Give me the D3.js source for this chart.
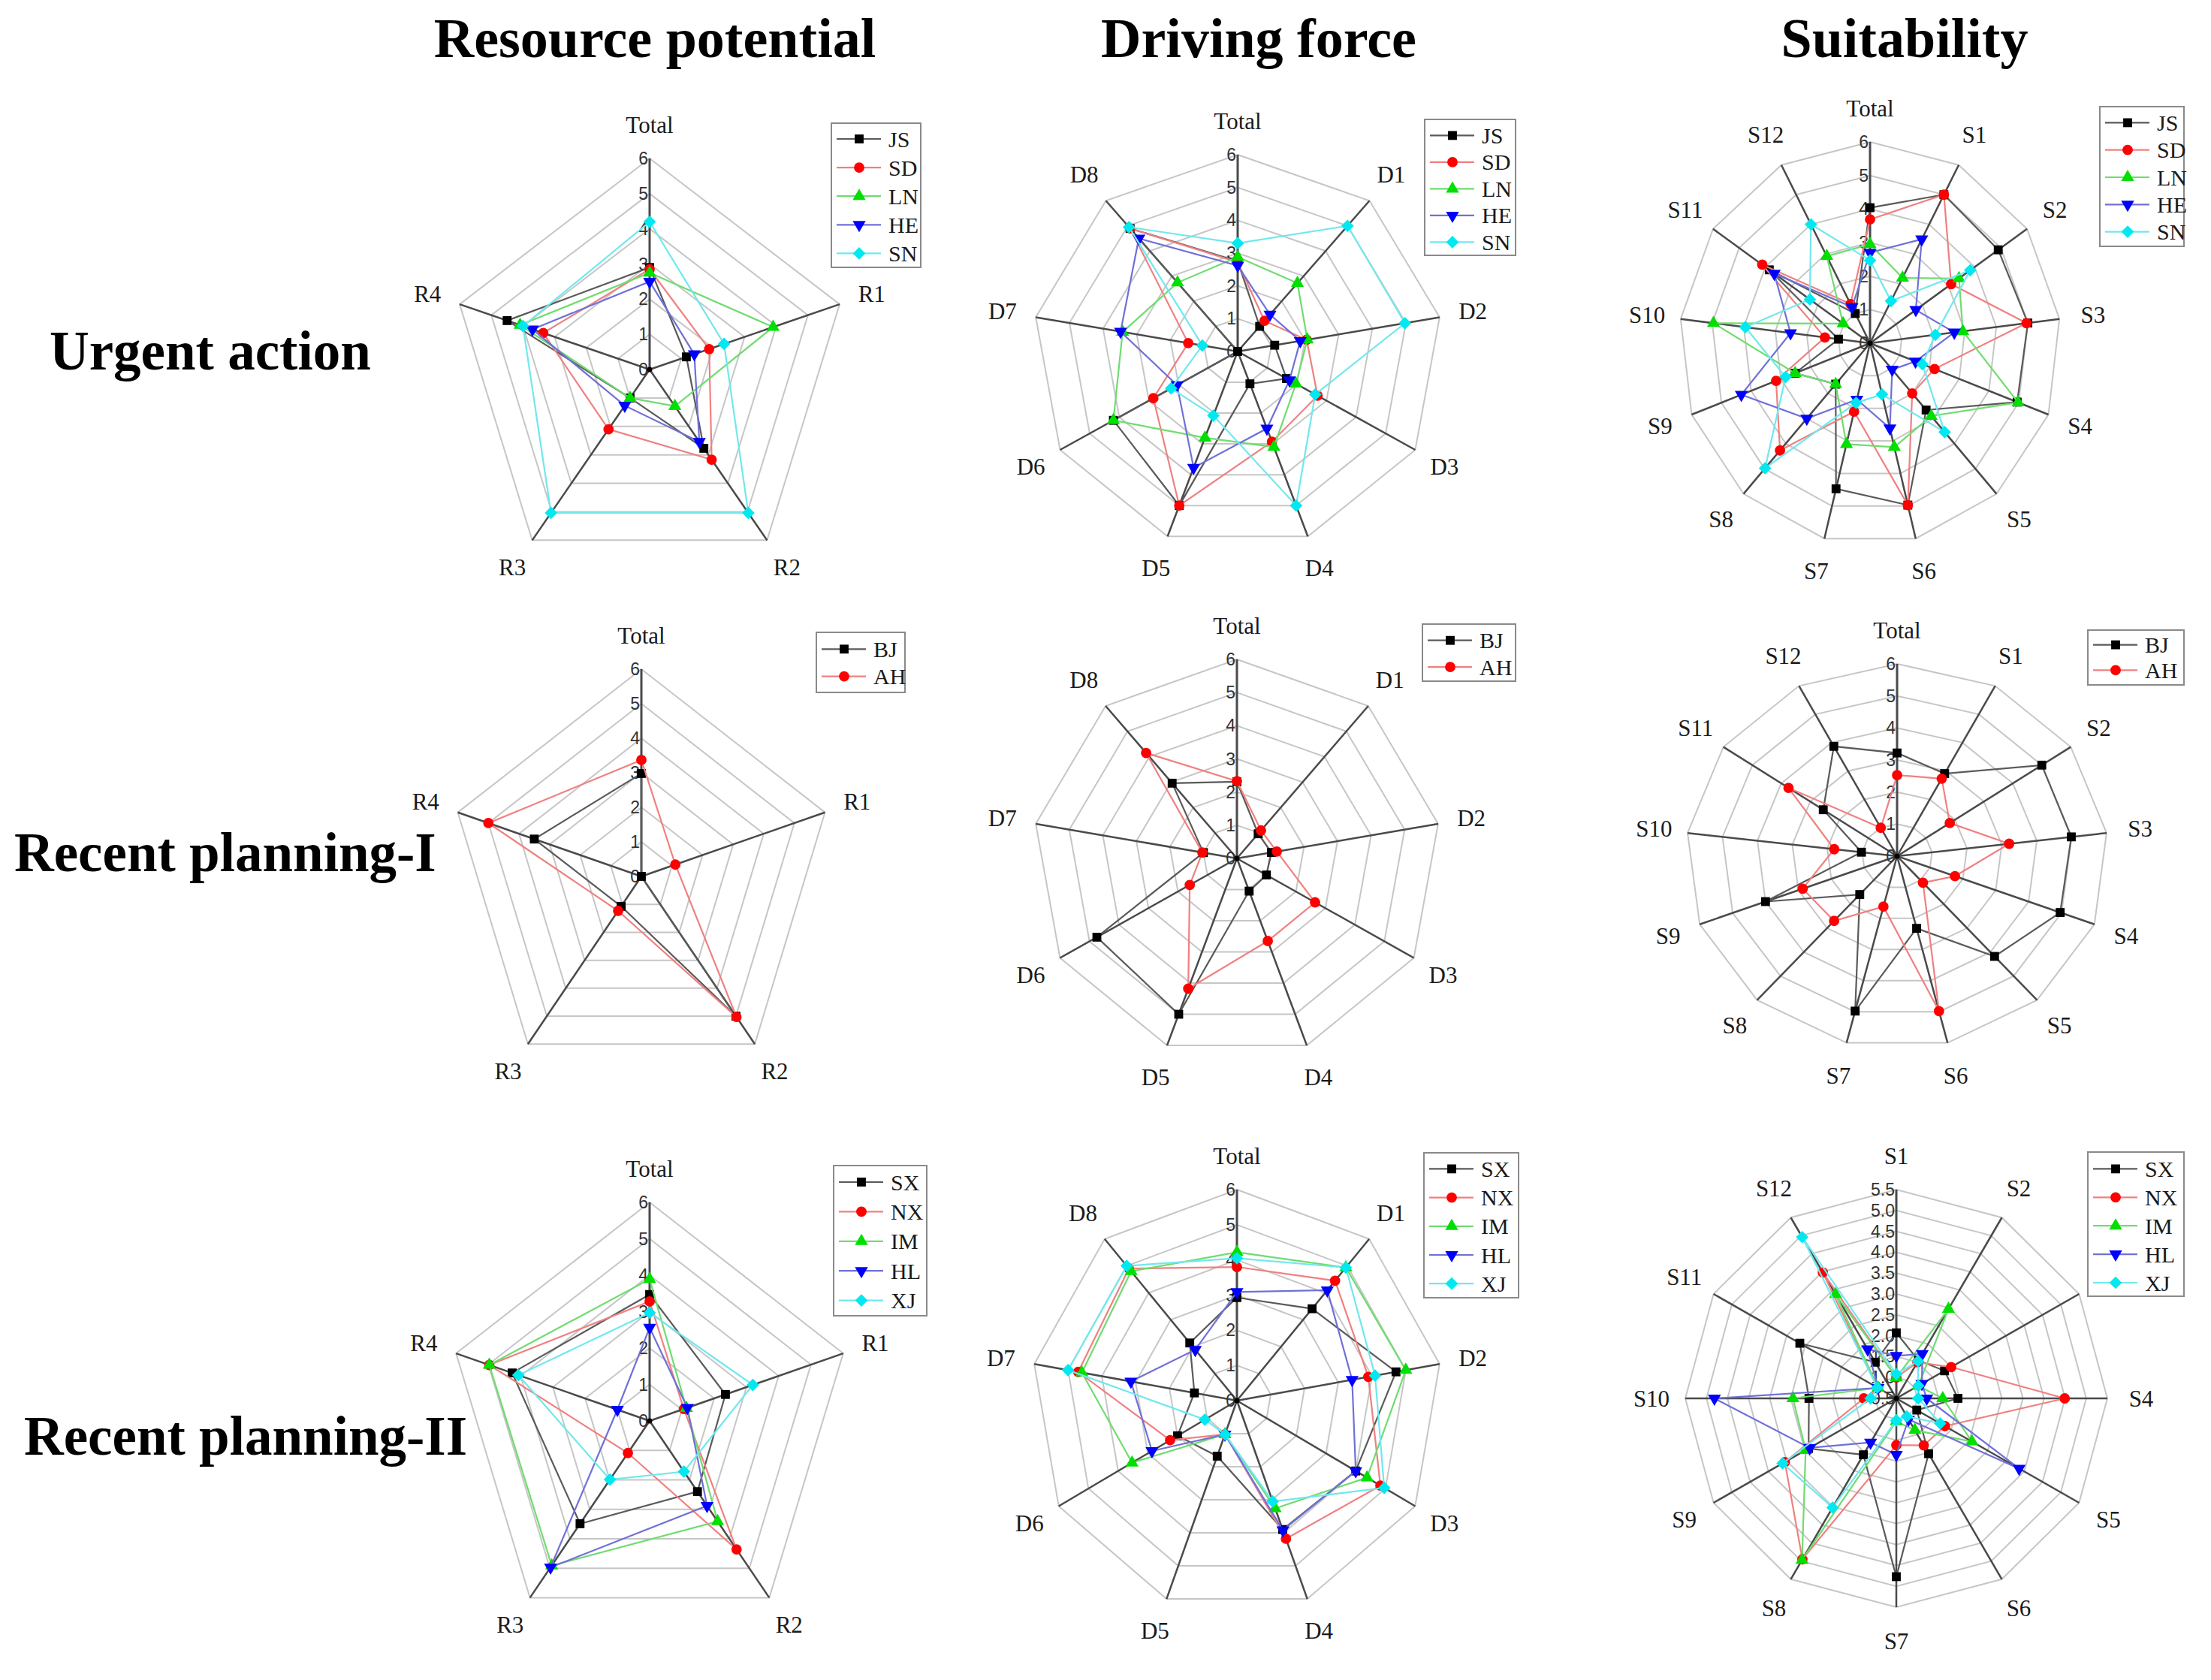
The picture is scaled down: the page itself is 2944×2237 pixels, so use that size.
<!DOCTYPE html>
<html>
<head>
<meta charset="utf-8">
<script src="https://cdn.jsdelivr.net/npm/d3@7"></script>
<style>
  body { margin: 0; background: #fff; }
  svg { display: block; }
</style>
</head>
<body>
<svg id="fig" width="2944" height="2237"></svg>
<script>
// ---- axis categories ----
var resourceAxes = ["Total", "R1", "R2", "R3", "R4"];
var drivingAxes = ["Total", "D1", "D2", "D3", "D4", "D5", "D6", "D7", "D8"];
var suitAxes = ["Total", "S1", "S2", "S3", "S4", "S5", "S6", "S7", "S8", "S9", "S10", "S11", "S12"];
var suitAxesNoTotal = ["S1", "S2", "S3", "S4", "S5", "S6", "S7", "S8", "S9", "S10", "S11", "S12"];

// ---- series names ----
var urgentNames = ["JS", "SD", "LN", "HE", "SN"];
var recent1Names = ["BJ", "AH"];
var recent2Names = ["SX", "NX", "IM", "HL", "XJ"];

// ---- tick labels ----
var ticks06 = [0, 1, 2, 3, 4, 5, 6];
var ticksHalf = [0.5, 1.0, 1.5, 2.0, 2.5, 3.0, 3.5, 4.0, 4.5, 5.0, 5.5];

// ---- values (one row per series, one column per axis) ----
var urgentResource = [
  [2.9, 1.16, 2.77, 1.0, 4.5],
  [2.85, 1.88, 3.17, 2.1, 3.36],
  [2.75, 3.9, 1.29, 1.0, 4.09],
  [2.5, 1.41, 2.54, 1.27, 3.7],
  [4.2, 2.35, 5.04, 5.04, 4.0]
];
var urgentDriving = [
  [2.75, 1.0, 1.1, 1.65, 1.05, 5.0, 4.2, 0, 4.9],
  [2.72, 1.22, 2.05, 2.7, 2.93, 5.0, 2.85, 1.47, 4.9],
  [2.88, 2.72, 2.07, 1.97, 3.1, 2.8, 4.2, 3.42, 2.74],
  [2.62, 1.47, 1.86, 1.75, 2.5, 3.77, 2.05, 3.48, 4.5],
  [3.3, 5.0, 4.97, 2.62, 5.0, 2.08, 2.25, 1.05, 4.95]
];
var urgentSuit = [
  [4.04, 5.0, 4.9, 5.0, 4.95, 2.66, 4.97, 4.47, 1.63, 2.52, 1.0, 3.85, 1.0],
  [3.69, 5.0, 3.1, 4.96, 2.17, 2.0, 4.97, 2.1, 4.27, 3.16, 1.43, 4.12, 1.32],
  [2.95, 2.2, 3.4, 2.94, 4.98, 2.9, 3.19, 3.1, 1.63, 2.52, 4.96, 1.03, 2.93],
  [2.7, 3.5, 1.75, 2.67, 1.53, 1.05, 2.61, 1.73, 3.0, 4.33, 2.52, 3.66, 1.22],
  [2.47, 1.42, 3.83, 2.07, 1.76, 3.54, 1.57, 1.83, 4.98, 2.84, 3.95, 2.3, 4.0]
];
var recent1Resource = [
  [2.98, 0, 5.0, 1.07, 3.5],
  [3.37, 1.11, 5.03, 1.23, 5.0]
];
var recent1Driving = [
  [2.31, 0.97, 1.03, 1.0, 1.05, 5.0, 4.75, 1.0, 2.96],
  [2.33, 1.1, 1.19, 2.65, 2.65, 4.18, 1.6, 1.03, 4.15]
];
var recent1Suit = [
  [3.22, 2.91, 5.0, 4.99, 4.96, 4.18, 2.32, 4.98, 1.6, 4.0, 1.02, 2.55, 3.87],
  [2.53, 2.73, 1.82, 3.21, 1.76, 1.11, 4.98, 1.62, 2.7, 2.87, 1.8, 3.75, 1.0]
];
var recent2Resource = [
  [3.47, 2.35, 2.4, 3.49, 4.26],
  [3.28, 1.06, 4.36, 1.09, 4.97],
  [3.89, 1.14, 3.41, 4.91, 4.97],
  [2.56, 1.17, 2.88, 4.97, 1.0],
  [2.97, 3.2, 1.72, 1.99, 4.07]
];
var recent2Driving = [
  [2.93, 3.41, 4.71, 4.0, 3.9, 1.68, 2.0, 1.26, 2.14],
  [3.8, 4.45, 3.89, 4.83, 4.18, 1.02, 2.25, 4.7, 4.9],
  [4.22, 4.94, 5.0, 4.38, 3.26, 1.02, 3.53, 4.59, 4.8],
  [3.09, 4.1, 3.41, 4.0, 3.92, 1.02, 2.86, 3.14, 1.89],
  [4.05, 4.94, 4.09, 4.96, 3.05, 1.02, 1.08, 5.0, 5.0]
];
var recent2Suit = [
  [2.07, 1.55, 1.82, 1.96, 1.06, 2.03, 4.77, 2.06, 2.9, 2.57, 3.14, 1.5],
  [1.0, 1.5, 2.0, 4.49, 1.83, 1.8, 1.62, 4.95, 3.55, 1.27, 1.0, 3.98],
  [1.0, 2.97, 1.1, 1.6, 2.57, 1.38, 1.05, 4.97, 2.98, 2.95, 1.0, 3.38],
  [1.52, 1.73, 1.2, 1.22, 3.86, 1.08, 1.85, 1.72, 2.87, 4.81, 1.0, 1.86],
  [1.08, 1.53, 1.1, 1.02, 1.7, 1.0, 1.03, 3.52, 3.61, 1.11, 1.02, 4.96]
];

var colTitles = ["Resource potential", "Driving force", "Suitability"];
var rowTitles = ["Urgent action", "Recent planning-I", "Recent planning-II"];

// series look (Origin default cycle)
var markColors = ["#000000", "#ff0000", "#00e000", "#0000ff", "#00e8f0"];
var lineColors = ["#5a5a5a", "#f08080", "#70dc70", "#7070d8", "#70e8ee"];
var shapes = [
  { type: d3.symbolSquare, size: 140, rot: 0 },
  { type: d3.symbolCircle, size: 150, rot: 0 },
  { type: d3.symbolTriangle, size: 130, rot: 0 },
  { type: d3.symbolTriangle, size: 130, rot: 180 },
  { type: d3.symbolSquare, size: 140, rot: 45 }
];

var svg = d3.select("#fig");

// layout of the 9 panels
var panels = [
  { cx: 865, cy: 492, rx: 266, ry: 281, axes: resourceAxes, names: urgentNames, values: urgentResource, ticks: ticks06,
    leg: { x: 1107, y: 164, w: 119, h: 192, y0: 185, step: 38.1 } },
  { cx: 1648, cy: 468, rx: 273, ry: 262, axes: drivingAxes, names: urgentNames, values: urgentDriving, ticks: ticks06,
    leg: { x: 1897, y: 159, w: 121, h: 181, y0: 180.4, step: 35.5 } },
  { cx: 2490, cy: 457, rx: 254, ry: 268, axes: suitAxes, names: urgentNames, values: urgentSuit, ticks: ticks06,
    leg: { x: 2796, y: 142, w: 112, h: 186, y0: 163.4, step: 36.3 } },
  { cx: 854, cy: 1167, rx: 257, ry: 276, axes: resourceAxes, names: recent1Names, values: recent1Resource, ticks: ticks06,
    leg: { x: 1087, y: 842, w: 118, h: 80, y0: 864.3, step: 36.3 } },
  { cx: 1647, cy: 1143, rx: 272, ry: 265, axes: drivingAxes, names: recent1Names, values: recent1Driving, ticks: ticks06,
    leg: { x: 1894, y: 831, w: 124, h: 76, y0: 852.7, step: 35.5 } },
  { cx: 2526, cy: 1140, rx: 281, ry: 256, axes: suitAxes, names: recent1Names, values: recent1Suit, ticks: ticks06,
    leg: { x: 2780, y: 839, w: 128, h: 73, y0: 858.6, step: 33.8 } },
  { cx: 865, cy: 1892, rx: 271, ry: 291, axes: resourceAxes, names: recent2Names, values: recent2Resource, ticks: ticks06,
    leg: { x: 1110, y: 1552, w: 124, h: 200, y0: 1574, step: 39.4 } },
  { cx: 1647, cy: 1865, rx: 274, ry: 281, axes: drivingAxes, names: recent2Names, values: recent2Driving, ticks: ticks06,
    leg: { x: 1896, y: 1535, w: 126, h: 193, y0: 1556.4, step: 38.2 } },
  { cx: 2525, cy: 1862, rx: 281, ry: 278, axes: suitAxesNoTotal, names: recent2Names, values: recent2Suit, ticks: ticksHalf,
    leg: { x: 2780, y: 1534, w: 128, h: 192, y0: 1556.4, step: 37.9 }, fmt: d3.format(".1f") }
];

function marker(g, k, x, y) {
  g.append("path")
    .attr("d", d3.symbol().type(shapes[k].type).size(shapes[k].size)())
    .attr("transform", "translate(" + x + "," + y + ") rotate(" + shapes[k].rot + ")")
    .attr("fill", markColors[k]);
}

function drawRadar(p) {
  var g = svg.append("g");
  var n = p.axes.length;
  var ang = d3.scaleLinear().domain([0, n]).range([0, 2 * Math.PI]);
  var r = d3.scaleLinear().domain(d3.extent(p.ticks)).range([0, 1]);
  var fmt = p.fmt || d3.format("d");

  function pt(i, v) {
    var a = ang(i), k = r(v);
    return [p.cx + p.rx * k * Math.sin(a), p.cy - p.ry * k * Math.cos(a)];
  }
  var closed = d3.line().curve(d3.curveLinearClosed);

  // grid rings
  p.ticks.slice(1).forEach(function(t) {
    g.append("path")
      .attr("d", closed(d3.range(n).map(function(i) { return pt(i, t); })))
      .attr("fill", "none").attr("stroke", "#c6c6c6").attr("stroke-width", 2);
  });

  // spokes
  d3.range(n).forEach(function(i) {
    var e = pt(i, p.ticks[p.ticks.length - 1]);
    g.append("line")
      .attr("x1", p.cx).attr("y1", p.cy).attr("x2", e[0]).attr("y2", e[1])
      .attr("stroke", "#4a4a4a").attr("stroke-width", i === 0 ? 3 : 2.5);
  });

  // tick labels on the first axis
  p.ticks.forEach(function(t) {
    var q = pt(0, t);
    g.append("text")
      .attr("x", q[0] - 2).attr("y", q[1])
      .attr("text-anchor", "end").attr("dominant-baseline", "central")
      .attr("font-family", "Liberation Sans, Arial, sans-serif")
      .attr("font-size", 23).attr("fill", "#333")
      .text(fmt(t));
  });

  // axis labels
  p.axes.forEach(function(name, i) {
    var a = ang(i);
    g.append("text")
      .attr("x", p.cx + (p.rx + 45) * Math.sin(a))
      .attr("y", p.cy - (p.ry + 45) * Math.cos(a))
      .attr("text-anchor", "middle").attr("dominant-baseline", "central")
      .attr("font-family", "Liberation Serif, Times New Roman, serif")
      .attr("font-size", 31).attr("fill", "#1a1a1a")
      .text(name);
  });

  // series
  p.values.forEach(function(vals, k) {
    var pts = vals.map(function(v, i) { return pt(i, v); });
    g.append("path").attr("d", closed(pts))
      .attr("fill", "none").attr("stroke", lineColors[k]).attr("stroke-width", 2.2);
    pts.forEach(function(q) { marker(g, k, q[0], q[1]); });
  });

  // centre dot
  g.append("circle").attr("cx", p.cx).attr("cy", p.cy).attr("r", 3.5).attr("fill", "#000");

  // legend
  var L = p.leg;
  g.append("rect").attr("x", L.x).attr("y", L.y).attr("width", L.w).attr("height", L.h)
    .attr("fill", "#fff").attr("stroke", "#8a8a8a").attr("stroke-width", 2);
  p.names.forEach(function(name, k) {
    var y = L.y0 + k * L.step;
    g.append("line").attr("x1", L.x + 7).attr("x2", L.x + 66).attr("y1", y).attr("y2", y)
      .attr("stroke", lineColors[k]).attr("stroke-width", 2.2);
    marker(g, k, L.x + 37, y);
    g.append("text").attr("x", L.x + 76).attr("y", y)
      .attr("dominant-baseline", "central")
      .attr("font-family", "Liberation Serif, Times New Roman, serif")
      .attr("font-size", 30).attr("fill", "#1a1a1a")
      .text(name);
  });
}

panels.forEach(drawRadar);

// column and row titles
var colX = [872, 1676, 2536];
colTitles.forEach(function(t, i) {
  svg.append("text").attr("x", colX[i]).attr("y", 76)
    .attr("text-anchor", "middle")
    .attr("font-family", "Liberation Serif, Times New Roman, serif")
    .attr("font-weight", "bold").attr("font-size", 74)
    .text(t);
});
var rowPos = [[66, 492], [19, 1160], [32, 1937]];
rowTitles.forEach(function(t, i) {
  svg.append("text").attr("x", rowPos[i][0]).attr("y", rowPos[i][1])
    .attr("font-family", "Liberation Serif, Times New Roman, serif")
    .attr("font-weight", "bold").attr("font-size", 73)
    .text(t);
});
</script>
</body>
</html>
